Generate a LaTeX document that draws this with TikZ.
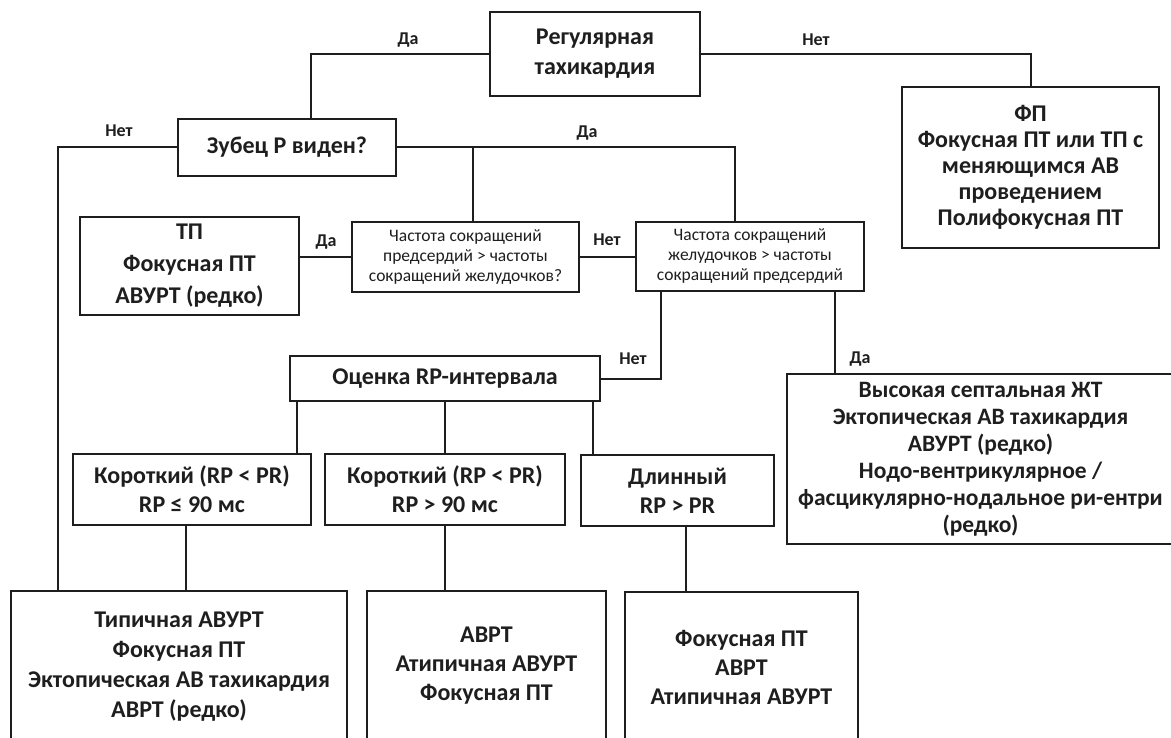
\documentclass[tikz,border=0pt]{standalone}
\usepackage{fontspec}
\setmainfont{Carlito}
\usepackage{tikz}
\usetikzlibrary{positioning,calc}
\definecolor{inkDark}{HTML}{1E1E1E}
\newcommand{\fsBox}[1]{\fontsize{24}{#1}\selectfont\bfseries}
\newcommand{\fsAsk}{\fontsize{17.5}{20}\selectfont}
\newcommand{\fsTag}{\fontsize{18}{20}\selectfont\bfseries}
\tikzset{
  blok/.style={draw=inkDark, line width=2pt, align=center, inner sep=2pt, text=inkDark, font=\fsBox{28}},
  vopros/.style={blok, font=\fsAsk},
  liniya/.style={draw=inkDark, line width=2pt},
  metka/.style={font=\fsTag, text=inkDark, inner sep=1pt},
}

\begin{document}
\begin{tikzpicture}[x=1pt, y=-1pt]
\fill[white] (0,0) rectangle (1171,738);
\clip (0,0) rectangle (1171,738);

\node[blok, minimum width=210pt, minimum height=84pt, font=\fsBox{30}] (reg) at (595,54) {Регулярная\\тахикардия};
\node[blok, minimum width=257pt, minimum height=161pt, font=\fsBox{26}] (fp) at (1030.5,167.5) {ФП\\Фокусная ПТ или ТП с\\меняющимся АВ\\проведением\\Полифокусная ПТ};
\node[blok, minimum width=218pt, minimum height=57pt] (zubec) at (287,147.5) {Зубец P виден?};

\node[blok, minimum width=219pt, minimum height=98pt, font=\fsBox{32}] (tp) at (189.5,266) {ТП\\Фокусная ПТ\\АВУРТ (редко)};
\node[vopros, minimum width=227pt, minimum height=70pt] (chastA) at (465.5,257) {Частота сокращений\\предсердий > частоты\\сокращений желудочков?};
\node[vopros, minimum width=228pt, minimum height=69pt] (chastV) at (750,256.5) {Частота сокращений\\желудочков > частоты\\сокращений предсердий};

\node[blok, minimum width=310pt, minimum height=45pt] (rp) at (445,378.5) {Оценка RP-интервала};
\node[blok, minimum width=387pt, minimum height=170pt, font={\fontsize{23.5}{27}\selectfont\bfseries}] (vys) at (980.5,459) {Высокая септальная ЖТ\\Эктопическая АВ тахикардия\\АВУРТ (редко)\\Нодо-вентрикулярное /\\фасцикулярно-нодальное ри-ентри\\(редко)};

\node[blok, minimum width=238pt, minimum height=71pt, font=\fsBox{29}] (korot1) at (192,489.5) {Короткий (RP < PR)\\RP ≤ 90 мс};
\node[blok, minimum width=240pt, minimum height=71pt, font=\fsBox{29}] (korot2) at (445,489.5) {Короткий (RP < PR)\\RP > 90 мс};
\node[blok, minimum width=193pt, minimum height=71pt, font=\fsBox{29}] (dlin) at (677.5,490.5) {Длинный\\RP > PR};

\node[blok, minimum width=336pt, minimum height=152pt, font=\fsBox{30}] (itog1) at (179,667) {Типичная АВУРТ\\Фокусная ПТ\\Эктопическая АВ тахикардия\\АВРТ (редко)};
\node[blok, minimum width=239pt, minimum height=150pt, font=\fsBox{29}] (itog2) at (486.5,666) {АВРТ\\Атипичная АВУРТ\\Фокусная ПТ};
\node[blok, minimum width=233pt, minimum height=151pt, font=\fsBox{29}] (itog3) at (741.5,667.5) {Фокусная ПТ\\АВРТ\\Атипичная АВУРТ};

% ветви
\draw[liniya] (reg.west) -| ([xshift=24pt]zubec.north);
\draw[liniya] (reg.east) -| (fp.north);
\draw[liniya] (zubec.west) -| ([xshift=48pt]itog1.north west);
\draw[liniya] (zubec.east) -| ([xshift=-15pt]chastV.north);
\draw[liniya] (zubec.east -| chastA.north) ++(7,0) -- ([xshift=7pt]chastA.north);
\draw[liniya] (chastA.west) -- (chastA.west -| tp.east);
\draw[liniya] (chastA.east) -- (chastA.east -| chastV.west);
\draw[liniya] ([xshift=-89pt]chastV.south) |- (rp.east);
\draw[liniya] ([xshift=85pt]chastV.south) -- ([xshift=85pt]chastV.south |- vys.north);
\draw[liniya] ([xshift=8pt]rp.south west) -- ([xshift=8pt]rp.south west |- korot1.north);
\draw[liniya] (rp.south) -- (korot2.north);
\draw[liniya] ([xshift=-8pt]rp.south east) -- ([xshift=-8pt]rp.south east |- dlin.north);
\draw[liniya] ([xshift=-6pt]korot1.south) -- ([xshift=-6pt]korot1.south |- itog1.north);
\draw[liniya] (korot2.south) -- (korot2.south |- itog2.north);
\draw[liniya] ([xshift=8pt]dlin.south) -- ([xshift=8pt]dlin.south |- itog3.north);

% подписи
\node[metka] (daReg) at (408,40) {Да};
\node[metka] (netReg) at (816,40) {Нет};
\node[metka] (netZub) at (119,131) {Нет};
\node[metka] (daZub) at (587,133) {Да};
\node[metka] (daA) at (326,242) {Да};
\node[metka] (netA) at (607,240) {Нет};
\node[metka] (netV) at (633,359) {Нет};
\node[metka] (daV) at (860,359) {Да};
\end{tikzpicture}
\end{document}
